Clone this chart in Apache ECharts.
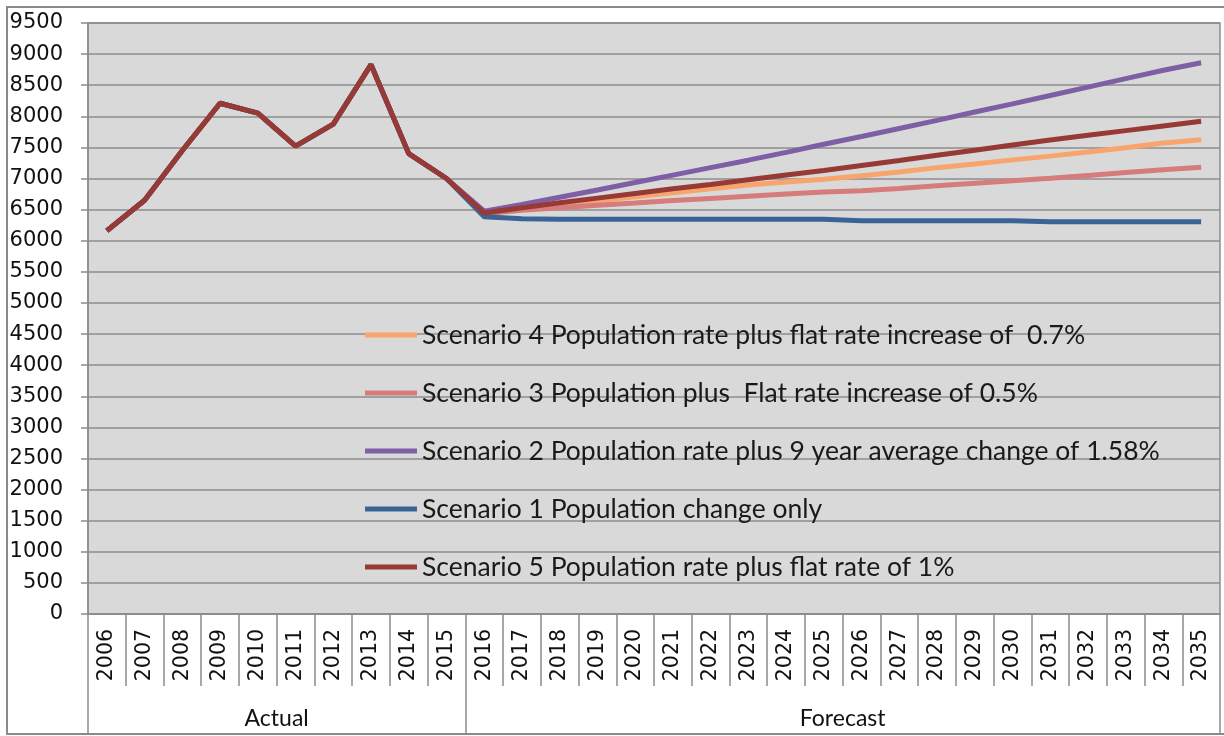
<!DOCTYPE html>
<html>
<head>
<meta charset="utf-8">
<script src="https://cdn.jsdelivr.net/npm/echarts@6/dist/echarts.min.js"></script>
<style>
  html, body { margin: 0; padding: 0; background: #fff; }
  #container { width: 1224px; height: 736px; }
</style>
</head>
<body>
<div id="container"></div>
<script>
// years on the axis
var years = [];
for (var y = 2006; y <= 2035; y++) years.push(String(y));

// groups under the years
var groupNames = ['Actual', 'Forecast'];
var groupSizes = [10, 20];

// actual figures 2006-2015 (shared by every scenario)
var actual = [6160, 6650, 7450, 8210, 8050, 7520, 7875, 8830, 7400, 7000];

// forecasts 2016-2035
var scenario4 = [6440, 6505, 6570, 6640, 6705, 6770, 6835, 6895, 6945, 6990,
                 7045, 7105, 7175, 7235, 7300, 7360, 7425, 7495, 7570, 7625];
var scenario3 = [6435, 6490, 6530, 6570, 6605, 6645, 6680, 6715, 6750, 6785,
                 6805, 6840, 6885, 6925, 6965, 7005, 7050, 7095, 7140, 7180];
var scenario2 = [6475, 6585, 6700, 6815, 6935, 7055, 7175, 7295, 7420, 7550,
                 7675, 7805, 7935, 8070, 8200, 8335, 8470, 8605, 8740, 8860];
var scenario1 = [6385, 6355, 6345, 6345, 6345, 6345, 6345, 6345, 6345, 6345,
                 6320, 6320, 6320, 6320, 6320, 6305, 6305, 6305, 6305, 6305];
var scenario5 = [6445, 6530, 6610, 6685, 6760, 6835, 6905, 6980, 7055, 7130,
                 7210, 7290, 7375, 7455, 7540, 7620, 7695, 7770, 7845, 7920];

var seriesNames = [
    'Scenario 4 Population rate plus flat rate increase of  0.7%',
    'Scenario 3 Population plus  Flat rate increase of 0.5%',
    'Scenario 2 Population rate plus 9 year average change of 1.58%',
    'Scenario 1 Population change only',
    'Scenario 5 Population rate plus flat rate of 1%'
];
var seriesValues = [scenario4, scenario3, scenario2, scenario1, scenario5];
var seriesColors = ['#f7a56d', '#d67c7b', '#7e5ea4', '#3b6496', '#973935'];

// group boundaries / centres in category units
var groupEdges = [0];
var groupCentres = [];
groupSizes.forEach(function (n, i) {
    groupCentres.push(groupEdges[i] + n / 2);
    groupEdges.push(groupEdges[i] + n);
});

var gridColor = '#8c8c8c';
var numFont = 'DejaVu Sans';
var textFont = 'Lato';

var chart = echarts.init(document.getElementById('container'));

var option = {
    animation: false,
    backgroundColor: '#fff',
    graphic: [{
        type: 'rect',
        shape: { x: 7, y: 7, width: 1240, height: 727 },
        style: { fill: 'none', stroke: '#8a8a8a', lineWidth: 2 },
        silent: true
    }],
    grid: {
        left: 88, top: 23, right: 4, bottom: 122,
        show: true,
        backgroundColor: '#d9d9d9',
        borderColor: gridColor,
        borderWidth: 1.5
    },
    legend: {
        orient: 'vertical',
        left: 365,
        top: 321,
        padding: 0,
        icon: 'rect',
        itemWidth: 52,
        itemHeight: 5,
        itemGap: 30,
        data: seriesNames,
        textStyle: {
            fontFamily: textFont,
            fontSize: 26.5,
            lineHeight: 28,
            color: '#1a1a1a'
        }
    },
    xAxis: [
        {
            type: 'category',
            data: years,
            boundaryGap: true,
            position: 'bottom',
            axisLine: { show: true, lineStyle: { color: gridColor, width: 1.5 } },
            axisTick: { show: true, length: 72, interval: 0, lineStyle: { color: gridColor, width: 1.5 } },
            axisLabel: {
                rotate: 90,
                interval: 0,
                margin: 15,
                fontFamily: numFont,
                fontSize: 20.5,
                color: '#111'
            },
            splitLine: { show: false }
        },
        {
            type: 'value',
            min: 0,
            max: years.length,
            position: 'bottom',
            axisLine: { show: false },
            axisTick: {
                show: true,
                length: 121,
                customValues: groupEdges,
                lineStyle: { color: gridColor, width: 1.5 }
            },
            axisLabel: {
                show: true,
                customValues: groupCentres,
                margin: 93,
                fontFamily: textFont,
                fontSize: 23,
                color: '#111',
                formatter: function (v) {
                    return groupNames[groupCentres.indexOf(v)];
                }
            },
            splitLine: { show: false }
        }
    ],
    yAxis: {
        type: 'value',
        min: 0,
        max: 9500,
        interval: 500,
        axisLine: { show: true, lineStyle: { color: gridColor, width: 1.5 } },
        axisTick: { show: true, length: 7, lineStyle: { color: gridColor, width: 1.5 } },
        axisLabel: {
            margin: 25,
            fontFamily: numFont,
            fontSize: 21,
            color: '#111',
            formatter: function (v) { return String(v); }
        },
        splitLine: { show: true, lineStyle: { color: gridColor, width: 1.5 } }
    },
    series: seriesNames.map(function (name, i) {
        return {
            name: name,
            type: 'line',
            xAxisIndex: 0,
            data: actual.concat(seriesValues[i]),
            symbol: 'none',
            color: seriesColors[i],
            lineStyle: { width: 5, color: seriesColors[i] }
        };
    })
};

chart.setOption(option);
</script>
</body>
</html>
